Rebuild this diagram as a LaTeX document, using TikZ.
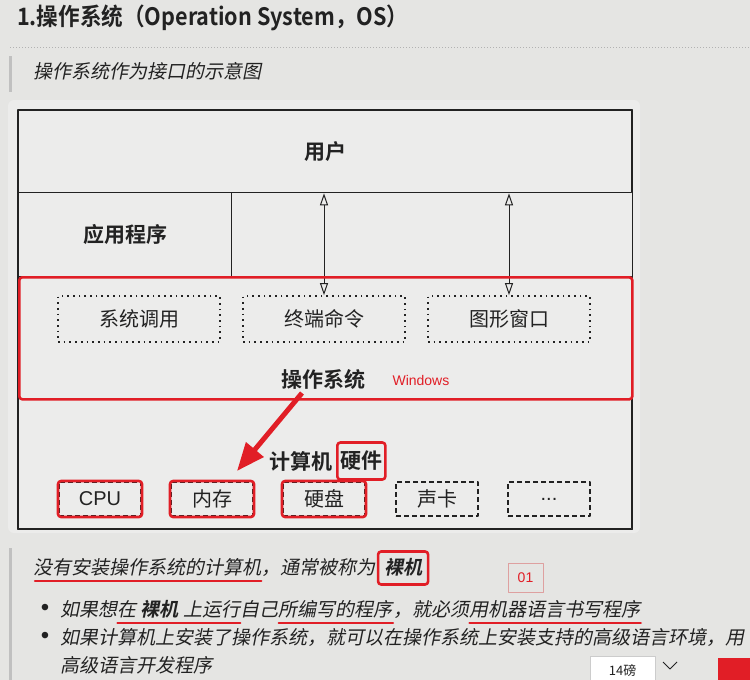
\documentclass[tikz,border=0pt]{standalone}
\usepackage{fontspec}
\setmainfont{Noto Sans CJK SC}[
  BoldFont={Noto Sans CJK SC Bold},
  ItalicFont={Noto Sans CJK SC},
  ItalicFeatures={FakeSlant=0.2},
  BoldItalicFont={Noto Sans CJK SC Bold},
  BoldItalicFeatures={FakeSlant=0.2}]
\newfontfamily\titlefont{Noto Sans CJK SC Bold}[FakeStretch=0.9]
\newfontfamily\uisans{Liberation Sans}
\usetikzlibrary{arrows.meta,calc,positioning}
\definecolor{pagegray}{RGB}{229,229,227}
\definecolor{panelgray}{RGB}{236,236,235}
\definecolor{inkgray}{RGB}{34,34,34}
\definecolor{markred}{RGB}{225,30,38}
\definecolor{bargray}{RGB}{192,192,192}
\definecolor{softpink}{RGB}{222,160,160}
\tikzset{
  every node/.style={font=\fontsize{20}{24}\selectfont, text=inkgray},
  layer/.style={draw=inkgray, line width=1.3pt, inner sep=0pt, anchor=north west},
  bold label/.style={font=\fontsize{21}{24}\selectfont\bfseries},
  dotbox/.style={draw=inkgray, line width=1.7pt, dash pattern=on 1.7pt off 4pt,
    minimum width=162pt, minimum height=46pt},
  dashbox/.style={draw=inkgray, line width=1.3pt, dash pattern=on 5pt off 3pt,
    minimum width=82pt, minimum height=34pt},
  redbox/.style={draw=markred, line width=2.6pt, rounded corners=3pt},
  call arrow/.style={draw=inkgray, line width=1pt,
    {Triangle[open,length=12pt,width=8pt]}-{Triangle[open,length=12pt,width=8pt]}},
  red arrow/.style={draw=markred, line width=5pt, -{Triangle[length=28pt,width=22pt]}},
  underline/.style={draw=markred, line width=2.2pt, line cap=round},
  body/.style={font=\fontsize{19}{24}\selectfont\itshape, inner sep=0pt,
    text height=17pt, text depth=4pt},
  bullet/.style={font=\uisans\fontsize{24}{24}\selectfont, inner sep=0pt}
}

\begin{document}
\begin{tikzpicture}[x=1pt,y=-1pt,line join=round]
  \useasboundingbox (0,0) rectangle (750,680);
  \fill[pagegray] (0,0) rectangle (750,680);

  % heading and caption
  \node[anchor=west, inner sep=0pt, font=\titlefont\fontsize{24}{28}\selectfont] (title)
    at (17,18) {1.操作系统（Operation System，OS）};
  \draw[black!30, line width=0.8pt, dash pattern=on 1pt off 2pt] (10,47) -- (750,47);
  \fill[bargray] (9,56) rectangle (12,92);
  \node[body, anchor=west] (caption) at (33,72) {操作系统作为接口的示意图};

  % diagram panel
  \fill[panelgray, rounded corners=6pt] (8,100) rectangle (640,533);

  \node[layer, minimum width=613pt, minimum height=82pt] (user) at (18,110) {};
  \node[bold label] (username) at (user.center) {用户};
  \node[layer, minimum width=213pt, minimum height=84pt] (app) at (18,192) {};
  \node[bold label] (appname) at (app.center) {应用程序};
  \node[layer, minimum width=613pt, minimum height=122pt] (os) at (18,276) {};
  \node[layer, minimum width=613pt, minimum height=130pt] (hw) at (18,398) {};
  \draw[inkgray, line width=1.3pt] (user.north west) rectangle (hw.south east);

  % operating system layer
  \node[dotbox] (syscall) at (139,319) {系统调用};
  \node[dotbox] (cmd) at (324,319) {终端命令};
  \node[dotbox] (gui) at (509,319) {图形窗口};
  \draw[call arrow] (cmd.north) -- (cmd.north |- user.south);
  \draw[call arrow] (gui.north) -- (gui.north |- user.south);
  \node[bold label] (osname) at (323,379) {操作系统};
  \node[anchor=west, text=markred, font=\uisans\fontsize{14}{16}\selectfont]
    (winname) at (389,380) {Windows};
  \node[layer, redbox, minimum width=613pt, minimum height=122pt]
    (osmark) at (18,276) {};

  % hardware layer
  \node[bold label] (hwname) at (301,461) {计算机};
  \node[bold label, redbox, right=0pt of hwname, inner xsep=3pt, minimum height=37pt]
    (hwpart) {硬件};
  \foreach \name/\x/\txt in {cpu/100/{\uisans CPU}, mem/212/内存, disk/324/硬盘,
      sound/437/声卡, more/549/{\uisans\raisebox{-3pt}{...}}}
    \node[dashbox] (\name) at (\x,499) {\txt};
  \foreach \name in {cpu,mem,disk}
    \node[redbox, minimum width=84pt, minimum height=36pt] (\name-mark) at (\name) {};

  \coordinate (pointfrom) at (302,393);
  \coordinate (pointto) at (237,471);
  \draw[red arrow] (pointfrom) -- (pointto);

  % notes below the panel
  \fill[bargray] (9,548) rectangle (12,680);
  \node[body, anchor=west] (bare1) at (33,568) {没有安装操作系统的计算机};
  \node[body, right=0pt of bare1] (bare2) {，通常被称为};
  \node[body, redbox, inner sep=6pt, right=1pt of bare2] (bare3) {\bfseries 裸机};
  \draw[underline] ($(bare1.south west)+(2,2)$) -- ($(bare1.south east)+(0,2)$);
  \node[draw=softpink, line width=0.8pt, text=markred, minimum width=35pt,
    minimum height=29pt, font=\uisans\fontsize{14}{16}\selectfont] (pagemark)
    at (525.5,577.5) {01};

  \node[bullet] (dot1) at (45,610) {\textbullet};
  \node[body, anchor=west] (want1) at (60,610) {如果想};
  \node[body, right=0pt of want1] (want2) {在 \textbf{裸机} 上运行};
  \node[body, right=0pt of want2] (want3) {自己};
  \node[body, right=0pt of want3] (want4) {所编写的程序};
  \node[body, right=0pt of want4] (want5) {，就必须};
  \node[body, right=0pt of want5] (want6) {用机器语言书写程序};
  \foreach \n in {want2,want4,want6}
    \draw[underline] ($(\n.south west)+(0,2)$) -- ($(\n.south east)+(0,2)$);

  \node[bullet] (dot2) at (45,638) {\textbullet};
  \node[body, anchor=west] (have1) at (60,638)
    {如果计算机上安装了操作系统，就可以在操作系统上安装支持的高级语言环境，用};
  \node[body, anchor=west] (have2) at (60,666) {高级语言开发程序};

  % toolbar fragment
  \node[draw=black!20, fill=white, anchor=north west, minimum width=65pt,
    minimum height=28pt, font=\fontsize{13}{15}\selectfont] (ptsize) at (590,656) {14磅};
  \draw[inkgray, line width=0.8pt] (663,662) -- (670,669) -- (677,662);
  \fill[markred] (718,658) rectangle (750,680);
\end{tikzpicture}
\end{document}
